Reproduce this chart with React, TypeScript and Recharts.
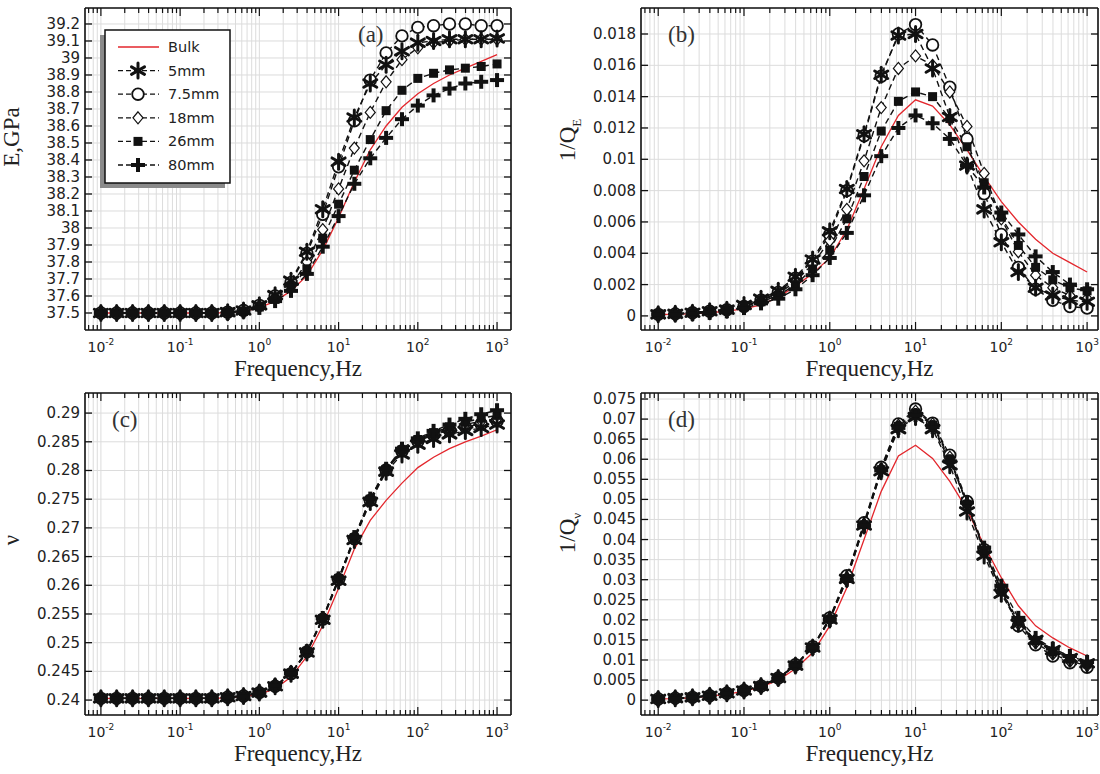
import React from 'react';
import { LineChart, Line, XAxis, YAxis, CartesianGrid, Customized } from 'recharts';

// frequency points, 5 per decade
const FREQ = [
  0.01, 0.0158, 0.0251, 0.0398, 0.0631, 0.1, 0.158, 0.251, 0.398, 0.631, 1, 1.58, 2.51,
  3.98, 6.31, 10, 15.8, 25.1, 39.8, 63.1, 100, 158, 251, 398, 631, 1000,
];

// (a) E, GPa
const A_BULK = [37.5, 37.5, 37.5, 37.5, 37.5, 37.5, 37.5, 37.5, 37.502, 37.51, 37.53, 37.57, 37.63, 37.72, 37.87, 38.06, 38.27, 38.46, 38.6, 38.71, 38.79, 38.85, 38.9, 38.94, 38.98, 39.02];
const A_5 = [37.5, 37.5, 37.5, 37.5, 37.5, 37.5, 37.5, 37.5, 37.505, 37.515, 37.545, 37.605, 37.69, 37.86, 38.11, 38.39, 38.65, 38.85, 38.96, 39.04, 39.09, 39.1, 39.11, 39.11, 39.11, 39.115];
const A_75 = [37.5, 37.5, 37.5, 37.5, 37.5, 37.5, 37.5, 37.5, 37.505, 37.515, 37.545, 37.6, 37.68, 37.85, 38.08, 38.36, 38.63, 38.87, 39.03, 39.13, 39.18, 39.19, 39.2, 39.2, 39.19, 39.19];
const A_18 = [37.5, 37.5, 37.5, 37.5, 37.5, 37.5, 37.5, 37.5, 37.505, 37.51, 37.54, 37.59, 37.66, 37.8, 37.99, 38.23, 38.47, 38.68, 38.86, 38.99, 39.06, 39.09, 39.1, 39.11, 39.11, 39.11];
const A_26 = [37.5, 37.5, 37.5, 37.5, 37.5, 37.5, 37.5, 37.5, 37.505, 37.51, 37.535, 37.58, 37.65, 37.76, 37.94, 38.14, 38.34, 38.52, 38.69, 38.81, 38.88, 38.91, 38.93, 38.94, 38.95, 38.965];
const A_80 = [37.5, 37.5, 37.5, 37.5, 37.5, 37.5, 37.5, 37.5, 37.5, 37.51, 37.53, 37.57, 37.63, 37.73, 37.89, 38.07, 38.26, 38.41, 38.53, 38.64, 38.72, 38.78, 38.82, 38.85, 38.86, 38.87];

// (b) 1/Q_E
const B_BULK = [0.0001, 0.0001, 0.00015, 0.0002, 0.0003, 0.00045, 0.0007, 0.0012, 0.0019, 0.0027, 0.0037, 0.0055, 0.0081, 0.0108, 0.0128, 0.0138, 0.0134, 0.0122, 0.0106, 0.0089, 0.0073, 0.006, 0.0049, 0.004, 0.0034, 0.0028];
const B_5 = [0.0001, 0.00013, 0.0002, 0.0003, 0.0004, 0.0007, 0.0011, 0.0016, 0.0025, 0.0036, 0.0054, 0.0081, 0.0116, 0.0154, 0.0179, 0.018, 0.0158, 0.0127, 0.0096, 0.0068, 0.0047, 0.0028, 0.0018, 0.0013, 0.001, 0.0009];
const B_75 = [0.0001, 0.00013, 0.0002, 0.0003, 0.0004, 0.0006, 0.001, 0.0015, 0.0024, 0.0035, 0.0052, 0.008, 0.0115, 0.0153, 0.018, 0.0186, 0.0173, 0.0146, 0.0113, 0.0078, 0.0052, 0.0031, 0.0017, 0.001, 0.0006, 0.0005];
const B_18 = [0.0001, 0.00012, 0.0002, 0.0003, 0.0004, 0.0006, 0.001, 0.0014, 0.0022, 0.0033, 0.0048, 0.0068, 0.0099, 0.0133, 0.0158, 0.0166, 0.016, 0.0143, 0.0121, 0.0091, 0.0062, 0.0041, 0.0026, 0.0018, 0.0013, 0.0011];
const B_26 = [0.0001, 0.00012, 0.0002, 0.0003, 0.0004, 0.0006, 0.0009, 0.0013, 0.002, 0.003, 0.0042, 0.0062, 0.0089, 0.0118, 0.0137, 0.0143, 0.014, 0.0126, 0.0108, 0.0085, 0.0063, 0.0045, 0.0031, 0.0023, 0.0018, 0.0016];
const B_80 = [0.0001, 0.00011, 0.00015, 0.0002, 0.0003, 0.0005, 0.0008, 0.0011, 0.0017, 0.0026, 0.0037, 0.0053, 0.0077, 0.0102, 0.012, 0.0128, 0.0123, 0.0113, 0.0096, 0.0082, 0.0066, 0.0052, 0.0038, 0.0028, 0.002, 0.0017];

// (c) Poisson's ratio
const C_BULK = [0.2403, 0.2403, 0.2403, 0.2403, 0.2403, 0.2403, 0.2403, 0.2403, 0.2404, 0.2406, 0.241, 0.242, 0.244, 0.2476, 0.253, 0.2595, 0.2663, 0.2713, 0.2748, 0.2778, 0.2805, 0.2823, 0.2838, 0.285, 0.286, 0.2871];
const C_5 = [0.2403, 0.2403, 0.2403, 0.2403, 0.2403, 0.2403, 0.2403, 0.2403, 0.2405, 0.2407, 0.2413, 0.2424, 0.2446, 0.2483, 0.254, 0.2608, 0.2679, 0.2745, 0.2798, 0.2828, 0.2845, 0.2855, 0.2863, 0.2869, 0.2874, 0.288];
const C_75 = [0.2403, 0.2403, 0.2403, 0.2403, 0.2403, 0.2403, 0.2403, 0.2403, 0.2405, 0.2407, 0.2413, 0.2424, 0.2446, 0.2484, 0.2541, 0.261, 0.2681, 0.2748, 0.2801, 0.2834, 0.2851, 0.2862, 0.287, 0.2876, 0.2881, 0.2886];
const C_18 = [0.2403, 0.2403, 0.2403, 0.2403, 0.2403, 0.2403, 0.2403, 0.2403, 0.2405, 0.2407, 0.2413, 0.2424, 0.2446, 0.2484, 0.2542, 0.2611, 0.2682, 0.2749, 0.28, 0.2835, 0.2852, 0.2864, 0.2873, 0.288, 0.2886, 0.289];
const C_26 = [0.2403, 0.2403, 0.2403, 0.2403, 0.2403, 0.2403, 0.2403, 0.2403, 0.2405, 0.2407, 0.2413, 0.2424, 0.2447, 0.2485, 0.2542, 0.2612, 0.2683, 0.275, 0.2802, 0.2836, 0.2854, 0.2866, 0.2876, 0.2884, 0.2891, 0.2896];
const C_80 = [0.2403, 0.2403, 0.2403, 0.2403, 0.2403, 0.2403, 0.2403, 0.2403, 0.2405, 0.2407, 0.2413, 0.2425, 0.2447, 0.2485, 0.2543, 0.2612, 0.2684, 0.2751, 0.2803, 0.2838, 0.2856, 0.2869, 0.288, 0.289, 0.2898, 0.2905];

// (d) 1/Q_nu
const D_BULK = [0.0003, 0.0004, 0.0006, 0.001, 0.0015, 0.0022, 0.0033, 0.005, 0.0078, 0.0118, 0.0185, 0.028, 0.04, 0.052, 0.0608, 0.0635, 0.0602, 0.0545, 0.0475, 0.0385, 0.0305, 0.0235, 0.0185, 0.0155, 0.013, 0.011];
const D_5 = [0.0003, 0.0005, 0.0007, 0.0011, 0.0017, 0.0024, 0.0035, 0.0055, 0.0086, 0.0131, 0.0201, 0.0302, 0.0435, 0.057, 0.0675, 0.0705, 0.0675, 0.0585, 0.047, 0.036, 0.0265, 0.019, 0.015, 0.0125, 0.0105, 0.0092];
const D_75 = [0.0003, 0.0005, 0.0007, 0.0011, 0.0017, 0.0024, 0.0035, 0.0055, 0.0088, 0.0133, 0.0205, 0.031, 0.0442, 0.058, 0.0688, 0.0725, 0.069, 0.061, 0.0495, 0.0375, 0.0275, 0.0185, 0.0138, 0.011, 0.0093, 0.0082];
const D_18 = [0.0003, 0.0005, 0.0007, 0.0011, 0.0017, 0.0024, 0.0035, 0.0055, 0.0087, 0.0132, 0.0203, 0.0305, 0.0438, 0.0576, 0.0685, 0.072, 0.0688, 0.0605, 0.049, 0.0372, 0.0272, 0.019, 0.0143, 0.0115, 0.0097, 0.0086];
const D_26 = [0.0003, 0.0005, 0.0007, 0.0011, 0.0017, 0.0024, 0.0035, 0.0055, 0.0087, 0.0132, 0.0202, 0.0303, 0.0437, 0.0574, 0.0682, 0.0715, 0.0685, 0.06, 0.0488, 0.037, 0.0275, 0.0195, 0.0148, 0.012, 0.0102, 0.009];
const D_80 = [0.0003, 0.0005, 0.0007, 0.0011, 0.0017, 0.0024, 0.0035, 0.0054, 0.0086, 0.013, 0.02, 0.03, 0.0434, 0.0572, 0.0678, 0.071, 0.068, 0.0595, 0.0492, 0.038, 0.0285, 0.0205, 0.0155, 0.0128, 0.011, 0.0095];

// axis ticks
const X_MAJOR = [0.01, 0.1, 1, 10, 100, 1000];
const X_MULT = [2, 3, 4, 5, 6, 7, 8, 9];
const X_LOW = [0.007, 0.008, 0.009];
const X_TICKS = [
  ...X_LOW,
  ...X_MAJOR.slice(0, 5).flatMap((d) => [d, ...X_MULT.map((m) => +(d * m).toPrecision(3))]),
  1000,
];

const A_TICKS = [37.5, 37.6, 37.7, 37.8, 37.9, 38, 38.1, 38.2, 38.3, 38.4, 38.5, 38.6, 38.7, 38.8, 38.9, 39, 39.1, 39.2];
const B_TICKS = [0, 0.002, 0.004, 0.006, 0.008, 0.01, 0.012, 0.014, 0.016, 0.018];
const C_TICKS = [0.24, 0.245, 0.25, 0.255, 0.26, 0.265, 0.27, 0.275, 0.28, 0.285, 0.29];
const D_TICKS = [0, 0.005, 0.01, 0.015, 0.02, 0.025, 0.03, 0.035, 0.04, 0.045, 0.05, 0.055, 0.06, 0.065, 0.07, 0.075];

const RED = '#e3262c';
const INK = '#111';
const SANS = '"DejaVu Sans", sans-serif';
const SERIF = '"Liberation Serif", "Times New Roman", serif';

type Shape = 'star' | 'circle' | 'diamond' | 'square' | 'plus';

// legend order
const SERIES: { key: string; name: string; shape: Shape }[] = [
  { key: 's5', name: '5mm', shape: 'star' },
  { key: 's75', name: '7.5mm', shape: 'circle' },
  { key: 's18', name: '18mm', shape: 'diamond' },
  { key: 's26', name: '26mm', shape: 'square' },
  { key: 's80', name: '80mm', shape: 'plus' },
];
// paint order: open markers underneath, heavy ones on top
const PAINT_ORDER = ['s75', 's18', 's26', 's5', 's80'];

const buildRows = (bulk: number[], s5: number[], s75: number[], s18: number[], s26: number[], s80: number[]) =>
  FREQ.map((f, i) => ({ f, bulk: bulk[i], s5: s5[i], s75: s75[i], s18: s18[i], s26: s26[i], s80: s80[i] }));

const Marker = ({ shape, cx, cy }: { shape: Shape; cx: number; cy: number }) => {
  if (cx == null || cy == null) return null;
  switch (shape) {
    case 'star': {
      const r = 7.5;
      return (
        <g stroke={INK} strokeWidth={3} strokeLinecap="round">
          <line x1={cx} y1={cy - r} x2={cx} y2={cy + r} />
          <line x1={cx - r * 0.87} y1={cy - r * 0.5} x2={cx + r * 0.87} y2={cy + r * 0.5} />
          <line x1={cx - r * 0.87} y1={cy + r * 0.5} x2={cx + r * 0.87} y2={cy - r * 0.5} />
        </g>
      );
    }
    case 'circle':
      return <circle cx={cx} cy={cy} r={5.8} fill="#fff" stroke={INK} strokeWidth={1.8} />;
    case 'diamond':
      return (
        <path
          d={`M${cx},${cy - 6}L${cx + 5},${cy}L${cx},${cy + 6}L${cx - 5},${cy}Z`}
          fill="#fff"
          stroke={INK}
          strokeWidth={1.2}
        />
      );
    case 'square':
      return <rect x={cx - 4.5} y={cy - 4.5} width={9} height={9} fill={INK} />;
    default:
      return (
        <g stroke={INK} strokeWidth={4}>
          <line x1={cx} y1={cy - 7} x2={cx} y2={cy + 7} />
          <line x1={cx - 7} y1={cy} x2={cx + 7} y2={cy} />
        </g>
      );
  }
};

const fmtY = (v: number) => String(+v.toFixed(4));

const LeftTick = ({ x, y, payload }: any) => (
  <g>
    <line x1={x} y1={y} x2={x + 7} y2={y} stroke={INK} strokeWidth={1.3} />
    <text x={x - 5} y={y + 5} textAnchor="end" fontSize={15} fontFamily={SANS} fill="#222">
      {fmtY(payload.value)}
    </text>
  </g>
);

const RightTick = ({ x, y }: any) => <line x1={x} y1={y} x2={x - 7} y2={y} stroke={INK} strokeWidth={1.3} />;

const BottomTick = ({ x, y, payload }: any) => {
  const major = X_MAJOR.includes(payload.value);
  return (
    <g>
      <line x1={x} y1={y} x2={x} y2={y - (major ? 8 : 5)} stroke={INK} strokeWidth={1.2} />
      {major && (
        <text x={x} y={y + 22} textAnchor="middle" fontSize={14} fontFamily={SANS} fill="#222">
          10
          <tspan dy={-7} fontSize={9}>
            {Math.round(Math.log10(payload.value))}
          </tspan>
        </text>
      )}
    </g>
  );
};

const TopTick = ({ x, y, payload }: any) => {
  const major = X_MAJOR.includes(payload.value);
  return <line x1={x} y1={y} x2={x} y2={y + (major ? 8 : 5)} stroke={INK} strokeWidth={1.2} />;
};

const LegendBox = () => {
  const x0 = 105;
  const y0 = 30;
  const rows = [{ key: 'bulk', name: 'Bulk', shape: null as Shape | null }, ...SERIES];
  return (
    <g>
      <rect x={x0 - 5} y={y0 + 5} width={125} height={153} fill="#8a8a8a" />
      <rect x={x0} y={y0} width={125} height={153} fill="#fff" stroke={INK} strokeWidth={1.5} />
      {rows.map((r, i) => {
        const cy = y0 + 17 + i * 23.6;
        return (
          <g key={r.key}>
            {r.shape ? (
              <>
                <line x1={x0 + 13} y1={cy} x2={x0 + 54} y2={cy} stroke={INK} strokeWidth={1.3} strokeDasharray="5 3" />
                <Marker shape={r.shape} cx={x0 + 33} cy={cy} />
              </>
            ) : (
              <line x1={x0 + 13} y1={cy} x2={x0 + 54} y2={cy} stroke={RED} strokeWidth={1.3} />
            )}
            <text x={x0 + 63} y={cy + 5} fontSize={14.5} fontFamily={SANS} fill="#222">
              {r.name}
            </text>
          </g>
        );
      })}
    </g>
  );
};

interface PanelProps {
  left: number;
  top: number;
  plotLeft: number;
  plotRight: number;
  xDomain: [number, number];
  yDomain: [number, number];
  yTicks: number[];
  rows: ReturnType<typeof buildRows>;
  tag: string;
  tagX: number;
  yTitle: React.ReactNode;
  yTitleY: number;
  legend?: boolean;
}

const CHART_W = 550;
const CHART_H = 385;
const PLOT_TOP = 8;
const PLOT_BOTTOM = 330;

function Panel({ left, top, plotLeft, plotRight, xDomain, yDomain, yTicks, rows, tag, tagX, yTitle, yTitleY, legend }: PanelProps) {
  const midX = (plotLeft + plotRight) / 2;
  const titleX = plotLeft - 66;
  return (
    <div style={{ position: 'absolute', left, top }}>
      <LineChart
        width={CHART_W}
        height={CHART_H}
        data={rows}
        margin={{ top: PLOT_TOP - 2, right: CHART_W - plotRight - 2, bottom: 0, left: 0 }}
      >
        <CartesianGrid stroke="#dcdcdc" strokeWidth={1} />
        <XAxis
          dataKey="f"
          type="number"
          scale="log"
          domain={xDomain}
          allowDataOverflow
          ticks={X_TICKS}
          interval={0}
          height={CHART_H - PLOT_BOTTOM}
          tickSize={0}
          tickMargin={0}
          tickLine={false}
          tick={<BottomTick />}
          axisLine={{ stroke: INK, strokeWidth: 1.6 }}
        />
        <XAxis
          xAxisId="top"
          orientation="top"
          dataKey="f"
          type="number"
          scale="log"
          domain={xDomain}
          allowDataOverflow
          ticks={X_TICKS}
          interval={0}
          height={2}
          tickSize={0}
          tickMargin={0}
          tickLine={false}
          tick={<TopTick />}
          axisLine={{ stroke: INK, strokeWidth: 1.6 }}
        />
        <YAxis
          type="number"
          domain={yDomain}
          allowDataOverflow
          ticks={yTicks}
          interval={0}
          width={plotLeft}
          tickSize={0}
          tickMargin={0}
          tickLine={false}
          tick={<LeftTick />}
          axisLine={{ stroke: INK, strokeWidth: 1.6 }}
        />
        <YAxis
          yAxisId="right"
          orientation="right"
          type="number"
          domain={yDomain}
          allowDataOverflow
          ticks={yTicks}
          interval={0}
          width={2}
          tickSize={0}
          tickMargin={0}
          tickLine={false}
          tick={<RightTick />}
          axisLine={{ stroke: INK, strokeWidth: 1.6 }}
        />
        <Line
          xAxisId="top"
          yAxisId="right"
          dataKey="bulk"
          stroke="none"
          dot={false}
          activeDot={false}
          isAnimationActive={false}
        />
        <Line dataKey="bulk" stroke={RED} strokeWidth={1.3} dot={false} activeDot={false} isAnimationActive={false} />
        {PAINT_ORDER.map((k) => SERIES.find((s) => s.key === k)!).map((s) => (
          <Line
            key={s.key}
            dataKey={s.key}
            name={s.name}
            stroke={INK}
            strokeWidth={1.4}
            strokeDasharray="6 4"
            isAnimationActive={false}
            activeDot={false}
            dot={(p: any) => <Marker key={`${s.key}-${p.index}`} shape={s.shape} cx={p.cx} cy={p.cy} />}
          />
        ))}
        <Customized
          component={
            <g>
              <text x={tagX} y={42} fontSize={23} fontFamily={SERIF} fill="#333">
                {tag}
              </text>
              <text x={midX} y={PLOT_BOTTOM + 46} textAnchor="middle" fontSize={23} fontFamily={SERIF} fill="#222">
                Frequency,Hz
              </text>
              <text
                x={titleX}
                y={yTitleY}
                textAnchor="middle"
                fontSize={23}
                fontFamily={SERIF}
                fill="#222"
                transform={`rotate(-90 ${titleX} ${yTitleY})`}
              >
                {yTitle}
              </text>
              {legend && <LegendBox />}
            </g>
          }
        />
      </LineChart>
    </div>
  );
}

const ROWS_A = buildRows(A_BULK, A_5, A_75, A_18, A_26, A_80);
const ROWS_B = buildRows(B_BULK, B_5, B_75, B_18, B_26, B_80);
const ROWS_C = buildRows(C_BULK, C_5, C_75, C_18, C_26, C_80);
const ROWS_D = buildRows(D_BULK, D_5, D_75, D_18, D_26, D_80);

const X_DOM_LEFT: [number, number] = [0.0063, 1500];
const X_DOM_RIGHT: [number, number] = [0.0063, 1340];

export default function App() {
  return (
    <div style={{ position: 'absolute', left: 0, top: 0, width: 1100, height: 774, background: '#fff', overflow: 'hidden' }}>
      <Panel
        left={0}
        top={0}
        plotLeft={85}
        plotRight={511}
        xDomain={X_DOM_LEFT}
        yDomain={[37.4, 39.294]}
        yTicks={A_TICKS}
        rows={ROWS_A}
        tag="(a)"
        tagX={358}
        yTitle="E,GPa"
        yTitleY={137}
        legend
      />
      <Panel
        left={550}
        top={0}
        plotLeft={91}
        plotRight={548}
        xDomain={X_DOM_RIGHT}
        yDomain={[-0.0009, 0.01966]}
        yTicks={B_TICKS}
        rows={ROWS_B}
        tag="(b)"
        tagX={118}
        yTitle={
          <>
            1/Q
            <tspan fontSize={13} dy={6}>
              E
            </tspan>
          </>
        }
        yTitleY={140}
      />
      <Panel
        left={0}
        top={385}
        plotLeft={85}
        plotRight={511}
        xDomain={X_DOM_LEFT}
        yDomain={[0.2374, 0.2935]}
        yTicks={C_TICKS}
        rows={ROWS_C}
        tag="(c)"
        tagX={112}
        yTitle="ν"
        yTitleY={155}
      />
      <Panel
        left={550}
        top={385}
        plotLeft={91}
        plotRight={548}
        xDomain={X_DOM_RIGHT}
        yDomain={[-0.0037, 0.0765]}
        yTicks={D_TICKS}
        rows={ROWS_D}
        tag="(d)"
        tagX={118}
        yTitle={
          <>
            1/Q
            <tspan fontSize={13} dy={6}>
              ν
            </tspan>
          </>
        }
        yTitleY={148}
      />
    </div>
  );
}
